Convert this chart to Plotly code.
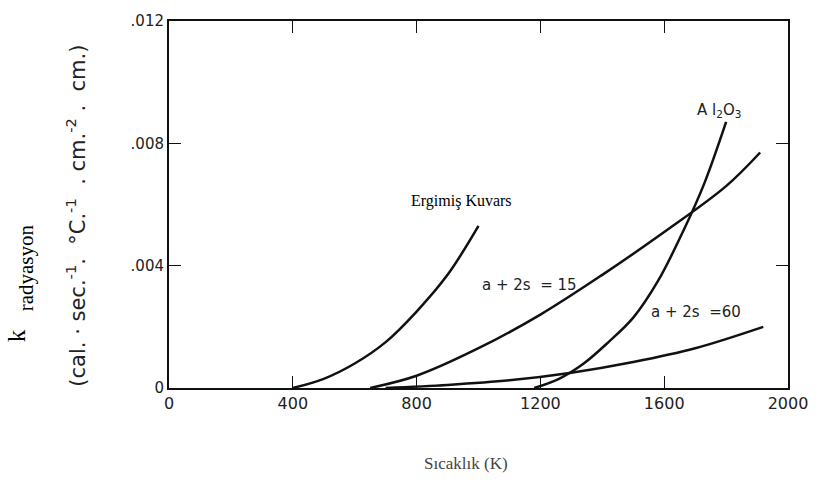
import plotly.graph_objects as go

# Radiative conductivity vs temperature
quartz_T = [400, 500, 600, 700, 800, 900, 1000]
quartz_k = [0.0, 0.0003, 0.0008, 0.0015, 0.0025, 0.0037, 0.0053]

s15_T = [650, 800, 1000, 1200, 1400, 1600, 1800, 1910]
s15_k = [0.0, 0.0004, 0.0013, 0.0024, 0.0037, 0.0051, 0.0066, 0.0077]

s60_T = [700, 900, 1100, 1300, 1500, 1700, 1920]
s60_k = [0.0, 0.0001, 0.00025, 0.0005, 0.00085, 0.0013, 0.0020]

al_T = [1180, 1260, 1340, 1420, 1500, 1580, 1660, 1730, 1800]
al_k = [0.0, 0.0003, 0.0008, 0.0015, 0.0023, 0.0035, 0.0051, 0.0067, 0.0087]

x_ticks = [0, 400, 800, 1200, 1600, 2000]
y_ticks = [0, 0.004, 0.008, 0.012]
y_tick_text = ["0", ".004", ".008", ".012"]

L, R, T, B = 169, 23, 14, 95
W, H = 820, 483
PW, PH = W - L - R, H - T - B


def px(x):
    return (x - L) / PW


def py(y):
    return (H - B - y) / PH


fig = go.Figure()
for xs, ys in [(quartz_T, quartz_k), (s15_T, s15_k), (s60_T, s60_k), (al_T, al_k)]:
    fig.add_trace(go.Scatter(x=xs, y=ys, mode="lines",
                             line=dict(color="#111", width=2.5, shape="spline", smoothing=1.0),
                             showlegend=False, hoverinfo="skip"))

sans = "DejaVu Sans, Verdana, sans-serif"
serif = "Liberation Serif, Times New Roman, serif"


def label(x, y, text, font, ref="data", angle=0):
    d = dict(x=x, y=y, text=text, font=font, textangle=angle, showarrow=False,
             xanchor="center", yanchor="middle")
    if ref == "paper":
        d.update(xref="paper", yref="paper")
    else:
        d.update(xref="x", yref="y")
    return d


annotations = [
    label(946, 0.00613, "Ergimiş Kuvars", dict(family=serif, size=16, color="#000")),
    label(1166, 0.00337, "a + 2s  = 15", dict(family=sans, size=15, color="#222")),
    label(1704, 0.0025, "a + 2s  =60", dict(family=sans, size=15, color="#222")),
    label(1777, 0.00908, "A l<sub>2</sub>O<sub>3</sub>", dict(family=sans, size=15, color="#222")),
    label(px(75), py(212),
          "(cal. · sec.<sup>-1</sup>.  °C.<sup>-1</sup>  . cm.<sup>-2</sup> .  cm.)",
          dict(family=sans, size=21, color="#222"), ref="paper", angle=-90),
    # k with its subscript, set as two rotated pieces
    label(px(15), py(335), "k", dict(family=serif, size=25, color="#000"), ref="paper", angle=-90),
    label(px(24), py(266), "radyasyon", dict(family=serif, size=21, color="#000"),
          ref="paper", angle=-90),
    label(px(470), py(465), "Sıcaklık (K)", dict(family=serif, size=17, color="#444"), ref="paper"),
]

fig.update_layout(
    width=W, height=H,
    margin=dict(l=L, r=R, t=T, b=B),
    paper_bgcolor="white", plot_bgcolor="white",
    annotations=annotations,
    xaxis=dict(range=[0, 2000], tickvals=x_ticks, showgrid=False, zeroline=False,
               showline=True, linecolor="#111", linewidth=2, mirror="ticks",
               ticks="inside", ticklen=12, tickwidth=1.3, tickcolor="#111",
               tickfont=dict(family=sans, size=16, color="#222")),
    yaxis=dict(range=[0, 0.012], tickvals=y_ticks, ticktext=y_tick_text,
               showgrid=False, zeroline=False,
               showline=True, linecolor="#111", linewidth=2, mirror="ticks",
               ticks="inside", ticklen=12, tickwidth=1.3, tickcolor="#111",
               tickfont=dict(family=sans, size=15, color="#222")),
)

fig.write_html("out.html")
